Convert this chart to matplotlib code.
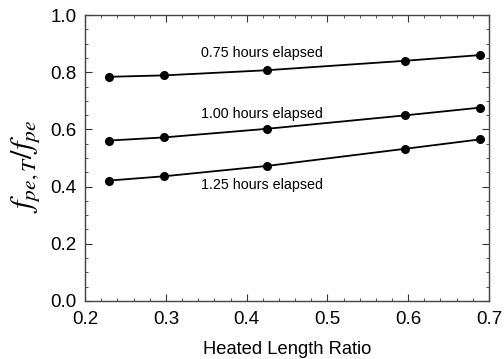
import matplotlib
matplotlib.use("Agg")
import matplotlib.pyplot as plt
from matplotlib.ticker import MultipleLocator, FormatStrFormatter

x = [0.23, 0.298, 0.425, 0.596, 0.689]
y_075 = [0.784, 0.789, 0.807, 0.840, 0.860]
y_100 = [0.561, 0.572, 0.602, 0.649, 0.676]
y_125 = [0.421, 0.436, 0.472, 0.532, 0.565]
labels = ["0.75 hours elapsed", "1.00 hours elapsed", "1.25 hours elapsed"]
label_pos = [(0.344, 0.868), (0.344, 0.654), (0.344, 0.405)]

plt.rcParams['font.family'] = ['Liberation Sans', 'DejaVu Sans']
plt.rcParams['mathtext.fontset'] = 'stix'

fig = plt.figure(figsize=(5.04, 3.59), dpi=100)
ax = fig.add_axes([0.169, 0.162, 0.801, 0.796])

for ys in (y_075, y_100, y_125):
    ax.plot(x, ys, color='black', lw=1.3, marker='o', ms=5.5)

for lab, (tx, ty) in zip(labels, label_pos):
    ax.text(tx, ty, lab, fontsize=10.3, ha='left', va='center')

ax.set_xlim(0.2, 0.7)
ax.set_ylim(0.0, 1.0)
ax.xaxis.set_major_locator(MultipleLocator(0.1))
ax.xaxis.set_minor_locator(MultipleLocator(0.02))
ax.yaxis.set_major_locator(MultipleLocator(0.2))
ax.yaxis.set_minor_locator(MultipleLocator(0.05))
ax.xaxis.set_major_formatter(FormatStrFormatter('%.1f'))
ax.yaxis.set_major_formatter(FormatStrFormatter('%.1f'))
ax.tick_params(which='both', direction='in', top=True, right=True, labelsize=13.5, color='#333333')
ax.tick_params(which='major', length=5)
ax.tick_params(which='minor', length=2.5)
ax.tick_params(axis='x', which='major', pad=7)
ax.tick_params(axis='y', which='major', pad=6)
for s in ax.spines.values():
    s.set_color('#444444')
    s.set_linewidth(1.0)

ax.set_xlabel('Heated Length Ratio', fontsize=13.2, labelpad=10)
ax.set_ylabel(r'$f_{pe,T}/f_{pe}$', fontsize=22)
ax.yaxis.set_label_coords(-0.106, 0.47)

fig.savefig('out.png', dpi=100)
